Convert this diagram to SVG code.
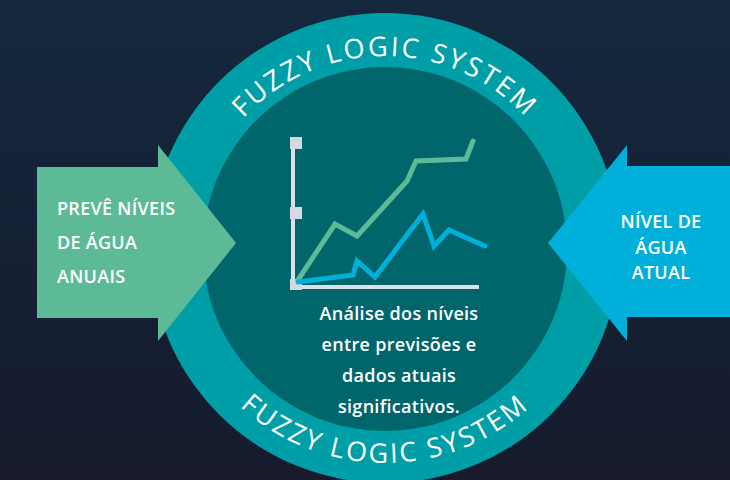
<svg xmlns="http://www.w3.org/2000/svg" width="730" height="480" viewBox="0 0 730 480">
  <defs>
    <linearGradient id="bg" x1="0" y1="0" x2="0" y2="1">
      <stop offset="0" stop-color="#14283e"/>
      <stop offset="1" stop-color="#161a2c"/>
    </linearGradient>
    <!-- baseline arcs for the ring lettering -->
    <path id="arcTop" d="M 193 248 A 192 192 0 0 1 577 248"/>
    <path id="arcBottom" d="M 170 248 A 215 215 0 0 0 600 248"/>
    <style>
      .ring-label { font-family: "Open Sans", "DejaVu Sans", sans-serif; font-size: 27px; font-weight: 400; fill: #ffffff; letter-spacing: 2.6px; }
      .label { font-family: "Open Sans", "DejaVu Sans", sans-serif; font-size: 18px; font-weight: 600; fill: #ffffff; letter-spacing: 0.3px; }
      .centre { text-anchor: middle; }
      .axis { stroke: #dde0e8; stroke-width: 4; fill: none; }
      .tick { fill: #d6d9e4; }
      .series { fill: none; stroke-width: 5; stroke-linecap: round; stroke-linejoin: miter; }
    </style>
  </defs>

  <rect width="730" height="480" fill="url(#bg)"/>

  <!-- outer ring and inner disc -->
  <g id="ring">
    <circle cx="385" cy="248" r="235" fill="#009fa8"/>
    <circle cx="385" cy="249" r="182" fill="#00666c"/>
    <text class="ring-label"><textPath href="#arcTop" startOffset="50%" text-anchor="middle">FUZZY LOGIC SYSTEM</textPath></text>
    <text class="ring-label"><textPath href="#arcBottom" startOffset="50%" text-anchor="middle">FUZZY LOGIC SYSTEM</textPath></text>
  </g>

  <!-- input: forecast -->
  <g id="forecast">
    <polygon points="37,167 158,167 158,145 236,243 158,341 158,318 37,318" fill="#5dba97"/>
    <text class="label" x="57" y="215">PREVÊ NÍVEIS</text>
    <text class="label" x="57" y="249">DE ÁGUA</text>
    <text class="label" x="57" y="283">ANUAIS</text>
  </g>

  <!-- input: current level -->
  <g id="current">
    <polygon points="730,166 627,166 627,145 548,243 627,341 627,317 730,317" fill="#00b0da"/>
    <text class="label centre" x="661" y="228">NÍVEL DE</text>
    <text class="label centre" x="661" y="254">ÁGUA</text>
    <text class="label centre" x="661" y="279">ATUAL</text>
  </g>

  <!-- chart in the centre -->
  <g id="chart">
    <line class="axis" x1="293" y1="140" x2="293" y2="289"/>
    <line class="axis" x1="293" y1="287" x2="479" y2="287"/>
    <rect class="tick" x="290" y="137" width="12" height="12"/>
    <rect class="tick" x="290" y="207" width="12" height="12"/>
    <rect class="tick" x="290" y="279" width="12" height="11"/>
    <polyline class="series" stroke="#5dba97" points="298,280 335,224 357,236 407,181 416,161 466,159 473,141"/>
    <polyline class="series" stroke="#00b0da" points="298,282 353,275 357,261 375,277 423,214 434,246 449,230 485,246"/>
  </g>

  <!-- caption -->
  <g id="caption">
    <text class="label centre" x="399" y="320">Análise dos níveis</text>
    <text class="label centre" x="399" y="351">entre previsões e</text>
    <text class="label centre" x="399" y="382">dados atuais</text>
    <text class="label centre" x="399" y="413">significativos.</text>
  </g>
</svg>
